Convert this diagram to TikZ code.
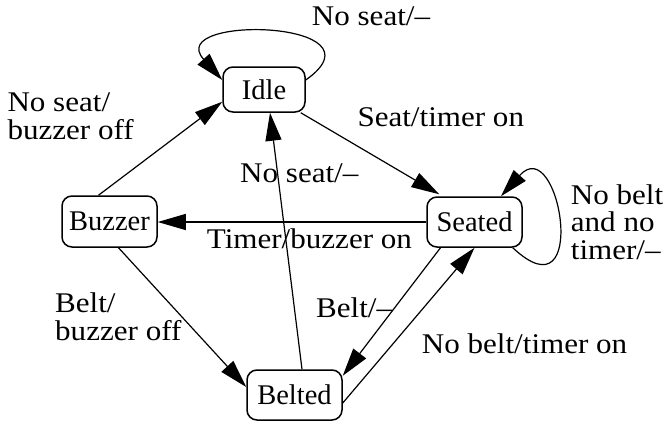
\documentclass[tikz,border=0pt]{standalone}
\usepackage{fontspec}
\setmainfont{Liberation Serif}
\newfontfamily\labelfont[FakeStretch=1.09]{Liberation Serif}

\usetikzlibrary{arrows.meta}

\begin{document}
\begin{tikzpicture}[x=1pt,y=-1pt,
  every node/.style={inner sep=0pt},
  state/.style={draw, line width=1.5pt, rounded corners=10pt,
    font=\fontsize{28.5}{28}\selectfont},
  trans/.style={line width=1.2pt, -{Triangle[length=28pt,width=16pt]}},
  lbl/.style={anchor=base west, align=left,
    font=\labelfont\fontsize{28.5}{27.5}\selectfont}]
  \useasboundingbox (0,0) rectangle (666,423);

  % states
  \node[state, minimum width=82pt, minimum height=45pt] (idle)   at (264,89.5)  {Idle};
  \node[state, minimum width=95pt, minimum height=51pt] (buzzer) at (109.5,221.5) {Buzzer};
  \node[state, minimum width=95pt, minimum height=50pt] (seated) at (474.5,222) {Seated};
  \node[state, minimum width=95pt, minimum height=50pt] (belted) at (294.5,395) {Belted};

  % transitions
  \draw[trans] ([xshift=-11pt]buzzer.north) -- ([yshift=11pt]idle.south west);
  \draw[trans] ([xshift=-5pt]idle.south east) -- ([xshift=13pt,yshift=2pt]seated.north west);
  \draw[trans] ([xshift=7.5pt]belted.north) -- ([xshift=6pt]idle.south);
  \draw[trans] (seated.west) -- (seated.west -| buzzer.east);
  \draw[trans] ([xshift=9pt]buzzer.south) -- ([yshift=8pt]belted.west);
  \draw[trans] ([xshift=-34pt]seated.south) -- ([yshift=-6.5pt]belted.north east);
  \draw[trans] ([yshift=-8pt]belted.east) -- (seated.south);

  % self loops: the curve runs to the back of the tip, then straight into it
  \draw[trans] ([yshift=9.5pt]idle.east)
    .. controls +(85,-60) and +(-40,-45) .. ([xshift=-18.7pt,yshift=30.3pt]idle.west)
    -- ([yshift=9.5pt]idle.west);
  \draw[trans] ([xshift=-10pt]seated.south east)
    .. controls +(78,73) and +(40,-44.6) .. ([xshift=45.2pt,yshift=20.8pt]seated.north)
    -- ([xshift=26.5pt]seated.north);

  % transition labels (multi-line ones are placed by their last baseline)
  \node[lbl] (l1) at (311.7,25)    {No seat/–};
  \node[lbl] (l2) at (357.3,126.7) {Seat/timer on};
  \node[lbl] (l3) at (7.3,139.3)   {No seat/\\buzzer off};
  \node[lbl] (l4) at (240,182.3)   {No seat/–};
  \node[lbl] (l5) at (206.7,248.3) {Timer/buzzer on};
  \node[lbl] (l6) at (55,340)      {Belt/\\buzzer off};
  \node[lbl] (l7) at (316,317.3)   {Belt/–};
  \node[lbl] (l8) at (421.7,353.3) {No belt/timer on};
  \node[lbl] (l9) at (570.7,259.3) {No belt\\and no\\timer/–};
\end{tikzpicture}
\end{document}
